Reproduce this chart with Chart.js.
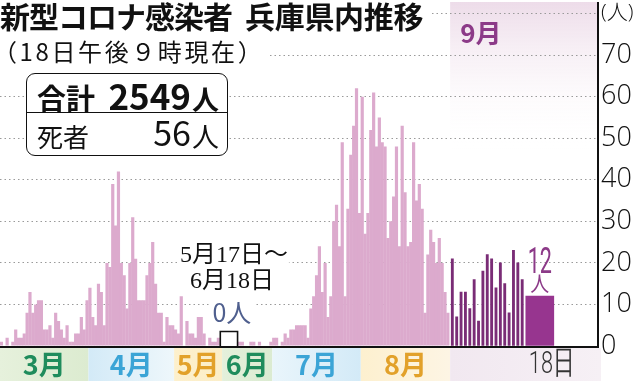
<!DOCTYPE html>
<html lang="ja">
<head>
<meta charset="utf-8">
<script src="https://cdn.jsdelivr.net/npm/chart.js@4.4.1/dist/chart.umd.min.js"></script>
<style>
html,body{margin:0;padding:0;background:#fff;}
#wrap{position:relative;width:639px;height:381px;overflow:hidden;background:#fff;}
#chart{position:absolute;left:0;top:0;}
.t{position:absolute;white-space:nowrap;font-family:"Noto Sans CJK JP","Noto Sans",sans-serif;color:#111;}
#title{left:0;top:-2px;font-size:30px;line-height:30px;font-weight:700;letter-spacing:-1px;background:#fff;padding:2px 8px 3px 0;}
#title span{margin-left:13px;letter-spacing:-0.3px;}
#sub{left:-7px;top:37.5px;font-size:24px;line-height:26px;letter-spacing:2.6px;background:#fff;padding-right:4px;}
#box{position:absolute;left:26px;top:73px;width:202px;height:83px;box-sizing:border-box;border:1.5px solid #111;border-radius:9px;background:#fff;}
#divider{position:absolute;left:26px;top:111.5px;width:202px;height:1.5px;background:#111;}
#r1a{left:37px;top:83px;font-size:29px;line-height:29px;font-weight:700;}
#r1b{right:448px;top:77px;font-size:35px;line-height:35px;font-weight:700;}
#r1c{left:192px;top:85px;font-size:27px;line-height:27px;font-weight:700;}
#r2a{left:37px;top:122.5px;font-size:26px;line-height:26px;}
#r2b{right:448px;top:115px;font-size:34px;line-height:34px;}
#r2c{left:192px;top:121.5px;font-size:27px;line-height:27px;}
</style>
</head>
<body>
<div id="wrap">
  <canvas id="chart" width="639" height="381"></canvas>
  <div class="t" id="title">新型コロナ感染者<span>兵庫県内推移</span></div>
  <div class="t" id="sub">（18日午後９時現在）</div>
  <div id="box"></div>
  <div id="divider"></div>
  <div class="t" id="r1a">合計</div>
  <div class="t" id="r1b">2549</div>
  <div class="t" id="r1c">人</div>
  <div class="t" id="r2a">死者</div>
  <div class="t" id="r2b">56</div>
  <div class="t" id="r2c">人</div>
</div>
<script>
// ---------------- data (daily new cases, Hyogo) ----------------
const monthLabels = ['3月', '4月', '5月', '6月', '7月', '8月'];
const septLabel = '9月';
const latestDayLabel = '18日';
const unitLabel = '(人)';
const yTickValues = [0, 10, 20, 30, 40, 50, 60, 70, 80];
const zeroPeriodLines = ['5月17日～', '6月18日'];
const zeroPeriodValue = '0人';

// Mar 1 – May 16
const casesMar1toMay16 = [1,0,2,0,1, 4,2,2,3,8, 13,8,10,11,11, 4,4,5,2,8, 6,4,2,5,1,
  1,3,3,7,4, 11,14,7,5,15, 13,5,20,19,39, 29,42,20,17, 9,20,31,21,11,11,11,17,20,
  25,15,8,8,1, 7,5,5,4,3, 12,0,6,3,3, 2,7,7,3,0, 2,1,1,2];
// (May 17 – Jun 18: 0 cases, drawn compressed)
// Jun 19 – Aug 31
const casesJun19toAug31 = [1,1,0,0,1,1,0,1,0,0,0,1,
  2,2,0,1,3,2,4,4,5,5,5,5,
  2,9,12,17,24,13,20,7,12,30,34,24,
  49,12,33,46,53,62,32,
  60,27,32,52,61,48,55,
  49,48,26,30,36,48,24,
  53,37,24,25,49,35,39,
  33,8,22,28,25,20,26,20,13,8];
// Sep 1 – Sep 17
const casesSep1to17 = [21,7,13,13,9,16,6,18,22,21,14,20,15,8,23,20,16];
// Sep 18 (latest)
const casesSep18 = 12;

// ---------------- broken time axis layout (units = one day of Mar–Aug) ----------------
const GAP_START = casesMar1toMay16.length;   // May 17
const GAP_UNITS = 6.4;                         // compressed zero period
const JUN19 = GAP_START + GAP_UNITS;
const SEPT_START = 157.7;
const SEPT_DAY = 1.53;
const LATEST_X = SEPT_START + casesSep1to17.length * SEPT_DAY + 5.4;
const X_MAX = 209.5;
const MAYJUN_SPLIT = GAP_START + 0.8;
const bandEdges = [0, 31, 61, MAYJUN_SPLIT, JUN19 + 12, JUN19 + 43, SEPT_START];
const bandColors = [['#e6f1dc','#dcebd0'], ['#d3eaf7','#eef7fb'], ['#fdf0cc','#fbeec9'],
  ['#e4f0db','#dbebd1'], ['#e9f5fb','#d3eaf7'], ['#fdf0cf','#fdf5e4'], ['#f1e8f0','#f6f0f5']];
const monthColors = ['#1f8c5c', '#3ba4d6', '#e2a12a', '#1f8c5c', '#3ba4d6', '#e2a12a'];
const PURPLE = '#8c3a88';

const pinkPoints = [
  ...casesMar1toMay16.map((v, i) => ({x: i + 0.5, y: v})),
  ...casesJun19toAug31.map((v, i) => ({x: JUN19 + i + 0.5, y: v}))
];
const septPoints = casesSep1to17.map((v, i) => ({x: SEPT_START + (i + 0.5) * SEPT_DAY, y: v}));
const latestPoints = [{x: LATEST_X, y: casesSep18}];

function txt(ctx, s, x, y, font, color, align, sx) {
  ctx.save();
  ctx.font = font; ctx.fillStyle = color; ctx.textAlign = align || 'left';
  ctx.textBaseline = 'alphabetic';
  ctx.translate(x, y); ctx.scale(sx || 1, 1);
  ctx.fillText(s, 0, 0);
  ctx.restore();
}

const annot = {
  id: 'annot',
  beforeDraw(chart) {
    const {ctx, chartArea: a, scales: {x}} = chart;
    ctx.save();
    const sx = x.getPixelForValue(SEPT_START);
    const g = ctx.createLinearGradient(0, 2, 0, 150);
    g.addColorStop(0, 'rgba(237,220,233,1)');
    g.addColorStop(1, 'rgba(255,255,255,0)');
    ctx.fillStyle = g;
    ctx.fillRect(sx, 2, a.right - sx, 148);
    const top = a.bottom + 2;
    for (let i = 0; i < bandEdges.length; i++) {
      const x0 = x.getPixelForValue(bandEdges[i]);
      const x1 = i + 1 < bandEdges.length ? x.getPixelForValue(bandEdges[i + 1]) : a.right + 3;
      const gr = ctx.createLinearGradient(x0, 0, x1, 0);
      gr.addColorStop(0, bandColors[i][0]); gr.addColorStop(1, bandColors[i][1]);
      ctx.fillStyle = gr;
      ctx.fillRect(x0, top, x1 - x0, chart.height - top);
    }
    ctx.restore();
  },
  beforeDatasetsDraw(chart) {
    const {ctx, scales: {x}} = chart;
    const gx0 = x.getPixelForValue(GAP_START), gx1 = x.getPixelForValue(JUN19);
    const cx = (gx0 + gx1) / 2 + 5;
    ctx.save();
    ctx.fillStyle = '#fff';
    ctx.fillRect(cx - 55, 238, 110, 56);
    ctx.fillRect(cx - 24, 299, 46, 27);
    ctx.restore();
    const serif = '24px "Liberation Serif", "Noto Sans CJK JP", serif';
    txt(ctx, zeroPeriodLines[0], cx, 262, serif, '#111', 'center');
    txt(ctx, zeroPeriodLines[1], cx - 2, 288, serif, '#111', 'center');
    txt(ctx, zeroPeriodValue, cx - 2, 322, '400 25px "Noto Sans CJK JP"', '#4f5f8e', 'center');
  },
  afterDraw(chart) {
    const {ctx, chartArea: a, scales: {x, y}} = chart;
    ctx.save();
    ctx.fillStyle = '#111';
    ctx.fillRect(0, a.bottom, a.right + 1, 2);       // baseline
    ctx.fillRect(a.right - 1, 2, 2, a.bottom);       // value axis line
    // bracket for zero period
    const gx0 = x.getPixelForValue(GAP_START), gx1 = x.getPixelForValue(JUN19);
    ctx.strokeStyle = '#111'; ctx.lineWidth = 1.6;
    ctx.beginPath();
    ctx.moveTo(gx0 + 0.5, a.bottom); ctx.lineTo(gx0 + 0.5, 331.5);
    ctx.lineTo(gx1 - 0.5, 331.5); ctx.lineTo(gx1 - 0.5, a.bottom);
    ctx.stroke();
    ctx.restore();
    // month labels
    for (let i = 0; i < monthLabels.length; i++) {
      const mx = (x.getPixelForValue(bandEdges[i]) + x.getPixelForValue(bandEdges[i + 1])) / 2;
      txt(ctx, monthLabels[i], mx, 375, '700 27px "Noto Sans CJK JP"', monthColors[i], 'center');
    }
    txt(ctx, septLabel, x.getPixelForValue(SEPT_START) + 10, 43, '700 26px "Noto Sans CJK JP"', PURPLE, 'left');
    const lx = x.getPixelForValue(LATEST_X);
    txt(ctx, latestDayLabel, lx + 12, 373, '300 32px Roboto', '#333', 'center', 0.68);
    const barTop = y.getPixelForValue(casesSep18);
    txt(ctx, String(casesSep18), lx, barTop - 23, '400 36px Roboto', PURPLE, 'center', 0.6);
    txt(ctx, '人', lx, barTop - 5, '400 21px "Noto Sans CJK JP"', PURPLE, 'center', 0.9);
  }
};

new Chart(document.getElementById('chart').getContext('2d'), {
  type: 'bar',
  data: {
    datasets: [
      {data: pinkPoints, backgroundColor: '#dcaacd', borderWidth: 0, grouped: false,
       categoryPercentage: 1, barPercentage: 1.12},
      {data: septPoints, backgroundColor: '#7a2c76', borderWidth: 0, grouped: false, barThickness: 2.2},
      {data: latestPoints, backgroundColor: '#97358f', borderWidth: 0, grouped: false, barThickness: 28}
    ]
  },
  options: {
    responsive: false, animation: false, devicePixelRatio: 1,
    layout: {padding: {top: 11, bottom: 35, left: 0, right: 0}},
    plugins: {legend: {display: false}, tooltip: {enabled: false}},
    scales: {
      x: {type: 'linear', min: 0, max: X_MAX, display: false, offset: false, grid: {offset: false}},
      y: {
        position: 'right', min: 0, max: 80,
        afterBuildTicks(s) { s.ticks = yTickValues.map(v => ({value: v})); },
        ticks: {
          padding: 3, color: '#111',
          font: (c) => (c.tick && c.tick.value === 80)
            ? {family: '"Open Sans", "Noto Sans CJK JP"', size: 21, weight: '300', lineHeight: 1}
            : {family: '"Open Sans", sans-serif', size: 27, weight: '300', lineHeight: 0.8},
          callback: (v) => v === 80 ? unitLabel : String(v)
        },
        grid: {color: '#9a9a9a', lineWidth: 1, drawTicks: false},
        border: {display: false, dash: [1.5, 3]},
        afterFit(s) { s.width = 41; }
      }
    }
  },
  plugins: [annot]
});
</script>
</body>
</html>
